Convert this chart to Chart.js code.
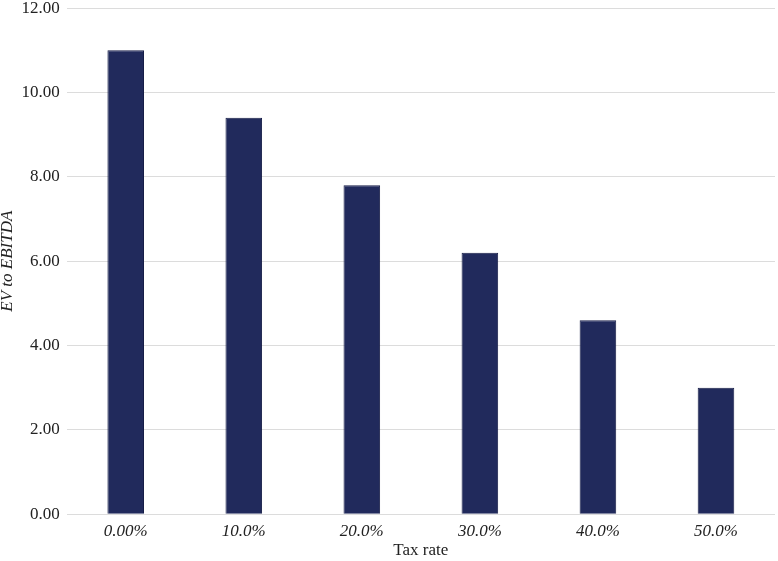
<!DOCTYPE html>
<html>
<head>
<meta charset="utf-8">
<script src="https://cdn.jsdelivr.net/npm/chart.js@4"></script>
<style>
  html, body { margin: 0; padding: 0; background: #fff; overflow: hidden; }
  #wrap { width: 778px; height: 570px; margin-top: -9px; }
</style>
</head>
<body>
<div id="wrap"><canvas id="grafica"></canvas></div>
<script>
const categorias = ['0.00%', '10.0%', '20.0%', '30.0%', '40.0%', '50.0%'];
const valores = [11.0, 9.4, 7.8, 6.2, 4.6, 3.0];
const ejeY = { min: 0, max: 12, paso: 2 };

const fuente = 'Liberation Serif, Times New Roman, serif';

new Chart(document.getElementById('grafica'), {
  type: 'bar',
  data: {
    labels: categorias,
    datasets: [{
      data: valores,
      backgroundColor: '#212a5c',
      borderColor: '#171e47',
      borderWidth: 1,
      categoryPercentage: 1,
      barPercentage: 0.31
    }]
  },
  options: {
    responsive: true,
    maintainAspectRatio: false,
    animation: false,
    layout: { padding: { top: 0, right: 3, left: 0, bottom: 0 } },
    plugins: {
      legend: { display: false },
      tooltip: { enabled: false }
    },
    scales: {
      x: {
        grid: { display: false },
        border: { display: false },
        ticks: { color: '#222', font: { family: fuente, size: 17, style: 'italic' }, padding: -1 },
        title: { display: true, text: 'Tax rate', color: '#222', font: { family: fuente, size: 17 }, padding: { top: 0, bottom: 0 } }
      },
      y: {
        min: ejeY.min,
        max: ejeY.max,
        grid: { color: '#dcdcdc', drawTicks: false },
        border: { display: false },
        ticks: {
          stepSize: ejeY.paso,
          color: '#222',
          padding: 7,
          font: { family: fuente, size: 17 },
          callback: v => v.toFixed(2)
        },
        title: { display: true, text: 'EV to EBITDA', color: '#222', font: { family: fuente, size: 17, style: 'italic', lineHeight: 0.85 }, padding: { top: 0, bottom: 0 } }
      }
    }
  }
});
</script>
</body>
</html>
